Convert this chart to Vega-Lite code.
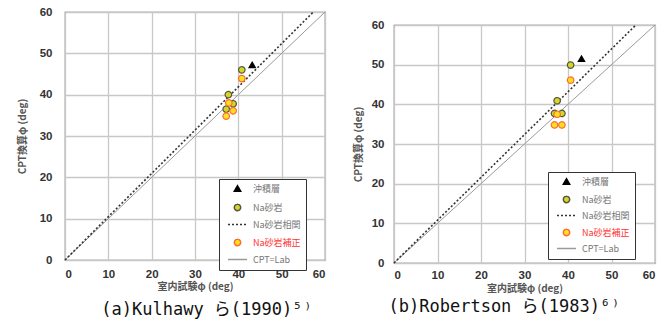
{
  "$schema": "https://vega.github.io/schema/vega-lite/v6.json",
  "background": "white",
  "padding": {"left": 16, "top": 5, "right": 5, "bottom": 0},
  "config": {
    "view": {"stroke": "#666666", "strokeWidth": 1.2},
    "axis": {
      "grid": true, "gridColor": "#c8c8c8", "gridWidth": 1.3,
      "domain": false, "ticks": false, "labelOverlap": false,
      "labelFont": "Liberation Sans", "labelFontWeight": "bold", "labelFontSize": 11.5, "labelColor": "#333333",
      "titleFont": "Noto Sans CJK JP", "titleFontWeight": "bold", "titleFontSize": 10, "titleColor": "#555555"
    },
    "title": {"font": "DejaVu Sans Mono, Noto Sans CJK JP", "fontSize": 17, "fontWeight": "normal", "color": "#111111"}
  },
  "datasets": {
    "a_pts": [
      {"series": "沖積層", "lab": 43.2, "cpt": 47.2},
      {"series": "Na砂岩", "lab": 40.8, "cpt": 46.0},
      {"series": "Na砂岩", "lab": 37.7, "cpt": 40.0},
      {"series": "Na砂岩", "lab": 38.8, "cpt": 37.8},
      {"series": "Na砂岩", "lab": 37.2, "cpt": 36.5},
      {"series": "Na砂岩補正", "lab": 40.8, "cpt": 43.9},
      {"series": "Na砂岩補正", "lab": 37.8, "cpt": 38.0},
      {"series": "Na砂岩補正", "lab": 38.8, "cpt": 36.1},
      {"series": "Na砂岩補正", "lab": 37.2, "cpt": 34.8}
    ],
    "a_lines": [
      {"series": "Na砂岩相関", "lab": 0, "cpt": 0},
      {"series": "Na砂岩相関", "lab": 57.3, "cpt": 60},
      {"series": "CPT=Lab", "lab": 0, "cpt": 0},
      {"series": "CPT=Lab", "lab": 60, "cpt": 60}
    ],
    "b_pts": [
      {"series": "沖積層", "lab": 43.1, "cpt": 51.5},
      {"series": "Na砂岩", "lab": 40.6, "cpt": 49.9},
      {"series": "Na砂岩", "lab": 37.5, "cpt": 40.9},
      {"series": "Na砂岩", "lab": 38.6, "cpt": 37.7},
      {"series": "Na砂岩", "lab": 36.9, "cpt": 37.7},
      {"series": "Na砂岩補正", "lab": 40.6, "cpt": 46.1},
      {"series": "Na砂岩補正", "lab": 37.5, "cpt": 37.5},
      {"series": "Na砂岩補正", "lab": 36.9, "cpt": 34.8},
      {"series": "Na砂岩補正", "lab": 38.6, "cpt": 34.8}
    ],
    "b_lines": [
      {"series": "Na砂岩相関", "lab": 0, "cpt": 0},
      {"series": "Na砂岩相関", "lab": 55.6, "cpt": 60},
      {"series": "CPT=Lab", "lab": 0, "cpt": 0},
      {"series": "CPT=Lab", "lab": 60, "cpt": 60}
    ]
  },
  "spacing": 24,
  "resolve": {
    "scale": {"x": "independent", "y": "independent", "shape": "independent", "fill": "independent", "stroke": "independent", "strokeDash": "independent"},
    "legend": {"shape": "independent", "fill": "independent", "stroke": "independent", "strokeDash": "independent"}
  },
  "hconcat": [
    {
      "width": 260, "height": 248,
      "title": {"text": "(a)Kulhawy ら(1990)⁵⁾", "orient": "bottom", "dx": 12, "offset": 10},
      "layer": [
        {
          "data": {"name": "a_lines"},
          "transform": [{"filter": "datum.series === 'CPT=Lab'"}],
          "mark": {"type": "line", "color": "#9a9a9a", "strokeWidth": 1},
          "encoding": {
            "x": {"field": "lab", "type": "quantitative", "scale": {"domain": [0, 60]}, "axis": {"values": [0,10,20,30,40,50,60], "title": "室内試験φ (deg)", "labelPadding": 8, "titlePadding": 2}},
            "y": {"field": "cpt", "type": "quantitative", "scale": {"domain": [0, 60]}, "axis": {"values": [0,10,20,30,40,50,60], "title": "CPT換算φ (deg)", "labelPadding": 13, "titlePadding": 12}}
          }
        },
        {
          "data": {"name": "a_lines"},
          "transform": [{"filter": "datum.series === 'Na砂岩相関'"}],
          "mark": {"type": "line", "color": "#333333", "strokeWidth": 1.6, "strokeDash": [2, 2]},
          "encoding": {
            "x": {"field": "lab", "type": "quantitative"},
            "y": {"field": "cpt", "type": "quantitative"}
          }
        },
        {
          "data": {"name": "a_pts"},
          "mark": {"type": "point", "filled": true, "strokeWidth": 1.2, "opacity": 1, "size": 42},
          "encoding": {
            "x": {"field": "lab", "type": "quantitative"},
            "y": {"field": "cpt", "type": "quantitative"},
            "shape": {"field": "series", "type": "nominal",
              "scale": {"domain": ["沖積層", "Na砂岩", "Na砂岩相関", "Na砂岩補正", "CPT=Lab"], "range": ["triangle-up", "circle", "M-3,0H3", "circle", "M-3,0H3"]},
              "legend": {
                "title": null, "orient": "none", "legendX": 154, "legendY": 167,
                "strokeColor": "#333333", "fillColor": "white", "padding": 5,
                "labelFont": "Noto Sans CJK JP", "labelFontSize": 9,
                "labelColor": {"expr": "datum.value === 'Na砂岩補正' ? '#ff3333' : '#777777'"},
                "symbolSize": 40, "symbolOffset": 9, "labelOffset": 11, "rowPadding": 6
              }
            },
            "strokeDash": {"field": "series", "type": "nominal",
              "scale": {"domain": ["沖積層", "Na砂岩", "Na砂岩相関", "Na砂岩補正", "CPT=Lab"], "range": [[1, 0], [1, 0], [2, 2], [1, 0], [1, 0]]}},
            "fill": {"field": "series", "type": "nominal",
              "scale": {"domain": ["沖積層", "Na砂岩", "Na砂岩相関", "Na砂岩補正", "CPT=Lab"], "range": ["#000000", "#d6d624", "transparent", "#ffe21a", "transparent"]}},
            "stroke": {"field": "series", "type": "nominal",
              "scale": {"domain": ["沖積層", "Na砂岩", "Na砂岩相関", "Na砂岩補正", "CPT=Lab"], "range": ["#000000", "#555544", "#333333", "#ff6a3a", "#9a9a9a"]}}
          }
        }
      ]
    },
    {
      "spacing": 5,
      "resolve": {"scale": {"x": "independent", "y": "independent"}, "axis": {"x": "independent", "y": "independent"}},
      "vconcat": [
        {
          "width": 261, "height": 1,
          "view": {"stroke": null},
          "data": {"values": []},
          "mark": {"type": "point"},
          "encoding": {}
        },
        {
          "width": 261, "height": 238,
          "title": {"text": "(b)Robertson ら(1983)⁶⁾", "orient": "bottom", "dx": -20, "offset": 5},
          "layer": [
            {
              "data": {"name": "b_lines"},
              "transform": [{"filter": "datum.series === 'CPT=Lab'"}],
              "mark": {"type": "line", "color": "#9a9a9a", "strokeWidth": 1},
              "encoding": {
                "x": {"field": "lab", "type": "quantitative", "scale": {"domain": [0, 60]}, "axis": {"values": [0,10,20,30,40,50,60], "title": "室内試験φ (deg)", "labelPadding": 6, "titlePadding": 3}},
                "y": {"field": "cpt", "type": "quantitative", "scale": {"domain": [0, 60]}, "axis": {"values": [0,10,20,30,40,50,60], "tickCount": 7, "title": "CPT換算φ (deg)", "labelPadding": 10, "titlePadding": 8}}
              }
            },
            {
              "data": {"name": "b_lines"},
              "transform": [{"filter": "datum.series === 'Na砂岩相関'"}],
              "mark": {"type": "line", "color": "#333333", "strokeWidth": 1.6, "strokeDash": [2, 2]},
              "encoding": {
                "x": {"field": "lab", "type": "quantitative"},
                "y": {"field": "cpt", "type": "quantitative"}
              }
            },
            {
              "data": {"name": "b_pts"},
              "mark": {"type": "point", "filled": true, "strokeWidth": 1.2, "opacity": 1, "size": 42},
              "encoding": {
                "x": {"field": "lab", "type": "quantitative"},
                "y": {"field": "cpt", "type": "quantitative"},
                "shape": {"field": "series", "type": "nominal",
                  "scale": {"domain": ["沖積層", "Na砂岩", "Na砂岩相関", "Na砂岩補正", "CPT=Lab"], "range": ["triangle-up", "circle", "M-3,0H3", "circle", "M-3,0H3"]},
                  "legend": {
                    "title": null, "orient": "none", "legendX": 154, "legendY": 160,
                    "strokeColor": "#333333", "fillColor": "white", "padding": 5,
                    "labelFont": "Noto Sans CJK JP", "labelFontSize": 9,
                    "labelColor": {"expr": "datum.value === 'Na砂岩補正' ? '#ff3333' : '#777777'"},
                    "symbolSize": 40, "symbolOffset": 9, "labelOffset": 11, "rowPadding": 5
                  }
                },
                "strokeDash": {"field": "series", "type": "nominal",
                  "scale": {"domain": ["沖積層", "Na砂岩", "Na砂岩相関", "Na砂岩補正", "CPT=Lab"], "range": [[1, 0], [1, 0], [2, 2], [1, 0], [1, 0]]}},
                "fill": {"field": "series", "type": "nominal",
                  "scale": {"domain": ["沖積層", "Na砂岩", "Na砂岩相関", "Na砂岩補正", "CPT=Lab"], "range": ["#000000", "#d6d624", "transparent", "#ffe21a", "transparent"]}},
                "stroke": {"field": "series", "type": "nominal",
                  "scale": {"domain": ["沖積層", "Na砂岩", "Na砂岩相関", "Na砂岩補正", "CPT=Lab"], "range": ["#000000", "#555544", "#333333", "#ff6a3a", "#9a9a9a"]}}
              }
            }
          ]
        }
      ]
    }
  ]
}
